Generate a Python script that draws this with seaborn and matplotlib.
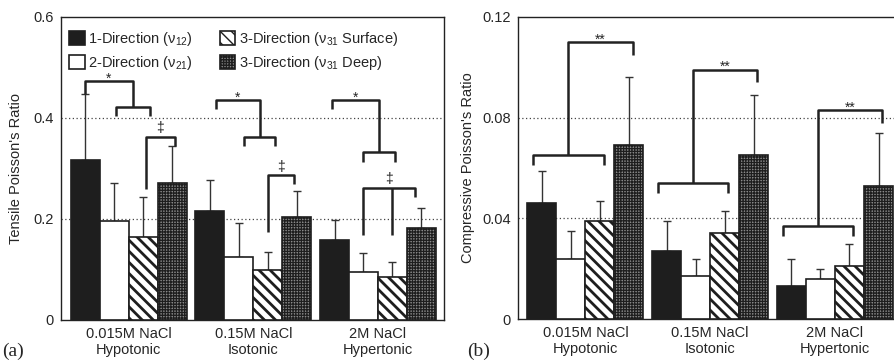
import numpy as np
import pandas as pd
import matplotlib
matplotlib.use("Agg")
import matplotlib.pyplot as plt
import seaborn as sns

# ---- data ----
conditions = ["0.015M NaCl\nHypotonic", "0.15M NaCl\nIsotonic", "2M NaCl\nHypertonic"]
directions = [r"1-Direction ($\mathrm{\nu}_{12}$)", r"2-Direction ($\mathrm{\nu}_{21}$)",
              r"3-Direction ($\mathrm{\nu}_{31}$ Surface)", r"3-Direction ($\mathrm{\nu}_{31}$ Deep)"]

tensile_dir1 = [0.317, 0.216, 0.158]
tensile_dir2 = [0.197, 0.125, 0.095]
tensile_surf = [0.164, 0.099, 0.085]
tensile_deep = [0.271, 0.204, 0.182]
tensile_err_dir1 = [0.130, 0.062, 0.040]
tensile_err_dir2 = [0.074, 0.067, 0.038]
tensile_err_surf = [0.080, 0.035, 0.030]
tensile_err_deep = [0.074, 0.052, 0.040]

comp_dir1 = [0.046, 0.027, 0.013]
comp_dir2 = [0.024, 0.017, 0.016]
comp_surf = [0.039, 0.034, 0.021]
comp_deep = [0.069, 0.065, 0.053]
comp_err_dir1 = [0.013, 0.012, 0.011]
comp_err_dir2 = [0.011, 0.007, 0.004]
comp_err_surf = [0.008, 0.009, 0.009]
comp_err_deep = [0.027, 0.024, 0.021]

sns.set_style("white")
plt.rcParams['font.family'] = ['Liberation Sans', 'DejaVu Sans']
plt.rcParams['mathtext.fontset'] = 'custom'
plt.rcParams['mathtext.rm'] = 'Liberation Sans'
plt.rcParams['mathtext.it'] = 'Liberation Sans:italic'

faces = ["#1e1e1e", "white", "white", "#8a8a8a"]
hatches = [None, None, "\\\\\\", "++++++"]
hatch_lw = [1.0, 1.0, 2.0, 0.9]
bar_w = 0.93
bw = bar_w / 4


def pos(g, j):
    return g + (j - 1.5) * bw


def make_df(series):
    rows = []
    for d, vals in zip(directions, series):
        for c, v in zip(conditions, vals):
            rows.append({"condition": c, "direction": d, "value": v})
    return pd.DataFrame(rows)


def draw_panel(ax, series, errs):
    df = make_df(series)
    sns.barplot(data=df, x="condition", y="value", hue="direction", order=conditions,
                hue_order=directions, palette=faces, saturation=1, width=bar_w,
                edgecolor="#1e1e1e", linewidth=1.2, errorbar=None, ax=ax, zorder=3)
    bars = list(ax.containers)
    for j, cont in enumerate(bars):
        xs = [p.get_x() + p.get_width() / 2 for p in cont.patches]
        for p in cont.patches:
            p.set_hatch(hatches[j])
            p.set_hatch_linewidth(hatch_lw[j])
        ax.errorbar(xs, series[j], yerr=[np.zeros(3), errs[j]], fmt="none",
                    ecolor="#333333", elinewidth=1.0, capsize=3.2, capthick=1.0, zorder=2)
    if ax.get_legend() is not None:
        ax.get_legend().remove()
    ax.set_xlabel("")
    ax.tick_params(axis="both", length=0, labelsize=10.5, pad=5)
    for s in ax.spines.values():
        s.set_color("#222222")
        s.set_linewidth(1.0)
    return bars


def seg(ax, xs, ys):
    ax.plot(xs, ys, color="#222222", lw=1.8, solid_capstyle="butt", zorder=4)


def bracket(ax, x1, x2, ytop, y1, y2, label=None):
    seg(ax, [x1, x1, x2, x2], [y1, ytop, ytop, y2])
    if label == "\u2021":
        ax.annotate(label, ((x1 + x2) / 2, ytop), xytext=(0, 1), textcoords="offset points",
                    ha="center", va="bottom", fontsize=10)
    elif label:
        ax.annotate(label, ((x1 + x2) / 2, ytop), xytext=(0, -1), textcoords="offset points",
                    ha="center", va="baseline", fontsize=10)


fig = plt.figure(figsize=(8.94, 3.63), dpi=100)
axL = fig.add_axes([0.0682, 0.1185, 0.4284, 0.8347])
axR = fig.add_axes([0.5794, 0.1212, 0.4230, 0.8320])

# ---- tensile ----
barsL = draw_panel(axL, [tensile_dir1, tensile_dir2, tensile_surf, tensile_deep],
                   [tensile_err_dir1, tensile_err_dir2, tensile_err_surf, tensile_err_deep])
axL.set_ylim(0, 0.6)
axL.set_xlim(-0.545, 2.53)
axL.set_yticks([0, 0.2, 0.4, 0.6])
axL.set_yticklabels(["0", "0.2", "0.4", "0.6"])
axL.set_ylabel("Tensile Poisson's Ratio", fontsize=10.5, labelpad=8)
for yv in [0.2, 0.4]:
    axL.axhline(yv, color="#444444", lw=0.9, ls=(0, (1, 2)), zorder=1)

# group 1
sub_a, sub_b = pos(0, 1) + 0.01, pos(0, 2) + 0.05
bracket(axL, sub_a, sub_b, 0.422, 0.404, 0.404)
bracket(axL, pos(0, 0), (sub_a + sub_b) / 2, 0.473, 0.447, 0.422, "*")
bracket(axL, pos(0, 2) + 0.02, pos(0, 3) + 0.02, 0.363, 0.26, 0.345, "\u2021")
# group 2
sub_a, sub_b = pos(1, 1) + 0.04, pos(1, 2) + 0.06
bracket(axL, sub_a, sub_b, 0.363, 0.345, 0.345)
bracket(axL, pos(1, 0) + 0.05, (sub_a + sub_b) / 2, 0.435, 0.418, 0.363, "*")
bracket(axL, pos(1, 2), pos(1, 3) - 0.02, 0.287, 0.174, 0.27, "\u2021")
# group 3
sub_a, sub_b = pos(2, 1), pos(2, 2) + 0.02
bracket(axL, sub_a, sub_b, 0.333, 0.313, 0.313)
bracket(axL, pos(2, 0) - 0.02, (sub_a + sub_b) / 2, 0.435, 0.418, 0.333, "*")
bracket(axL, pos(2, 1), pos(2, 3) - 0.05, 0.262, 0.168, 0.244, "\u2021")
seg(axL, [pos(2, 2), pos(2, 2)], [0.262, 0.168])

axL.legend(barsL, directions, ncol=2, loc="upper left", bbox_to_anchor=(-0.012, 1.0),
           frameon=False, fontsize=10.5, handlelength=1.05, handleheight=1.1,
           handletextpad=0.25, columnspacing=1.8, labelspacing=0.4, borderaxespad=0.5)

# ---- compressive ----
draw_panel(axR, [comp_dir1, comp_dir2, comp_surf, comp_deep],
           [comp_err_dir1, comp_err_dir2, comp_err_surf, comp_err_deep])
axR.set_ylim(0, 0.12)
axR.set_xlim(-0.54, 2.49)
axR.set_yticks([0, 0.04, 0.08, 0.12])
axR.set_yticklabels(["0", "0.04", "0.08", "0.12"])
axR.set_ylabel("Compressive Poisson's Ratio", fontsize=10.5, labelpad=5)
for yv in [0.04, 0.08]:
    axR.axhline(yv, color="#444444", lw=0.9, ls=(0, (1, 2)), zorder=1)

comp_low = [0.065, 0.054, 0.037]
comp_high = [0.110, 0.099, 0.083]
for g in range(3):
    a, b = pos(g, 0) - 0.07, pos(g, 2) + 0.03
    bracket(axR, a, b, comp_low[g], comp_low[g] - 0.004, comp_low[g] - 0.004)
    bracket(axR, (a + b) / 2, pos(g, 3) + 0.03, comp_high[g], comp_low[g], comp_high[g] - 0.005,
            "**")

fig.text(0.002, 0.02, "(a)", fontsize=14, family="Liberation Serif")
fig.text(0.522, 0.02, "(b)", fontsize=14, family="Liberation Serif")

fig.savefig("out.png", dpi=100)
